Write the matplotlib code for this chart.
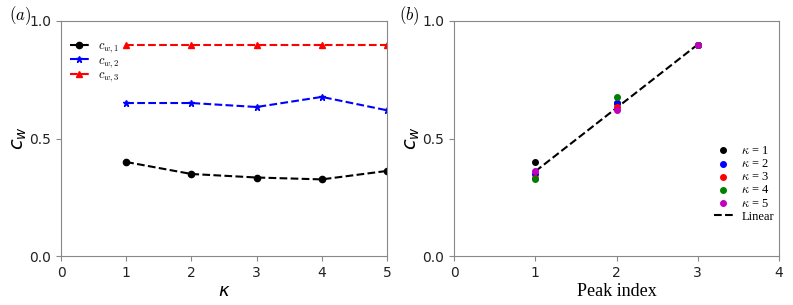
import matplotlib
matplotlib.use("Agg")
import matplotlib.pyplot as plt
from matplotlib.font_manager import FontProperties

kappa = [1, 2, 3, 4, 5]
cw1 = [0.400, 0.349, 0.334, 0.326, 0.362]
cw2 = [0.651, 0.651, 0.634, 0.677, 0.620]
cw3 = [0.900, 0.900, 0.900, 0.900, 0.900]
peak_index = [1, 2, 3]
kappa_labels = [r"$\kappa$ = 1", r"$\kappa$ = 2", r"$\kappa$ = 3", r"$\kappa$ = 4", r"$\kappa$ = 5"]
kappa_colors = ["black", "blue", "red", "green", "m"]
linear_x = [1, 3]
linear_y = [0.36, 0.90]

fig = plt.figure(figsize=(7.93, 3.05), dpi=100)
W, H = 793, 305
axa = fig.add_axes([61 / W, 1 - 256 / H, (387 - 61) / W, (256 - 21) / H])
axb = fig.add_axes([454 / W, 1 - 256 / H, (779 - 454) / W, (256 - 21) / H])

for ax in (axa, axb):
    for s in ax.spines.values():
        s.set_color('#888888')
    ax.tick_params(colors='#888888', labelcolor='#222222', labelsize=10, length=3.5)
    ax.set_ylim(0, 1)
    ax.set_yticks([0, 0.5, 1.0])

axa.plot(kappa, cw1, 'k--o', ms=4.5, lw=1.5, label=r'$c_{w,1}$')
axa.plot(kappa, cw2, 'b--*', ms=5, lw=1.5, label=r'$c_{w,2}$')
axa.plot(kappa, cw3, 'r--^', ms=4.5, lw=1.5, label=r'$c_{w,3}$')
axa.set_xlim(0, 5)
axa.set_xticks([0, 1, 2, 3, 4, 5])
axa.set_xlabel(r'$\kappa$', fontsize=13, labelpad=2)
axa.set_ylabel(r'$c_w$', fontsize=14, labelpad=0)
axa.legend(loc='upper left', bbox_to_anchor=(0.0, 0.96), frameon=False,
           prop=FontProperties(size=9, math_fontfamily='cm'),
           handlelength=1.5, labelspacing=-0.1, borderaxespad=0.3, handletextpad=0.8)
fig.text(9 / W, 1 - 16 / H, r'$(a)$', fontsize=12, va='center', math_fontfamily='cm')

series = [cw1, cw2, cw3]
for k in range(len(kappa)):
    vals = [s[k] for s in series]
    axb.scatter(peak_index, vals, color=kappa_colors[k], s=16, zorder=3, label=kappa_labels[k])
axb.plot(linear_x, linear_y, 'k--', lw=1.5, label='Linear', zorder=2)
axb.set_xlim(0, 4)
axb.set_xticks([0, 1, 2, 3, 4])
axb.set_xlabel('Peak index', fontsize=13, family='Liberation Serif', labelpad=2)
axb.set_ylabel(r'$c_w$', fontsize=14, labelpad=0)
axb.legend(loc='lower right', bbox_to_anchor=(1.0, 0.12), frameon=False,
           prop=FontProperties(family='Liberation Serif', size=9, math_fontfamily='cm'),
           handlelength=1.5, labelspacing=0.1, borderaxespad=0.0, handletextpad=0.7)
fig.text(399 / W, 1 - 16 / H, r'$(b)$', fontsize=12, va='center', math_fontfamily='cm')

fig.savefig('out.png', dpi=100)
